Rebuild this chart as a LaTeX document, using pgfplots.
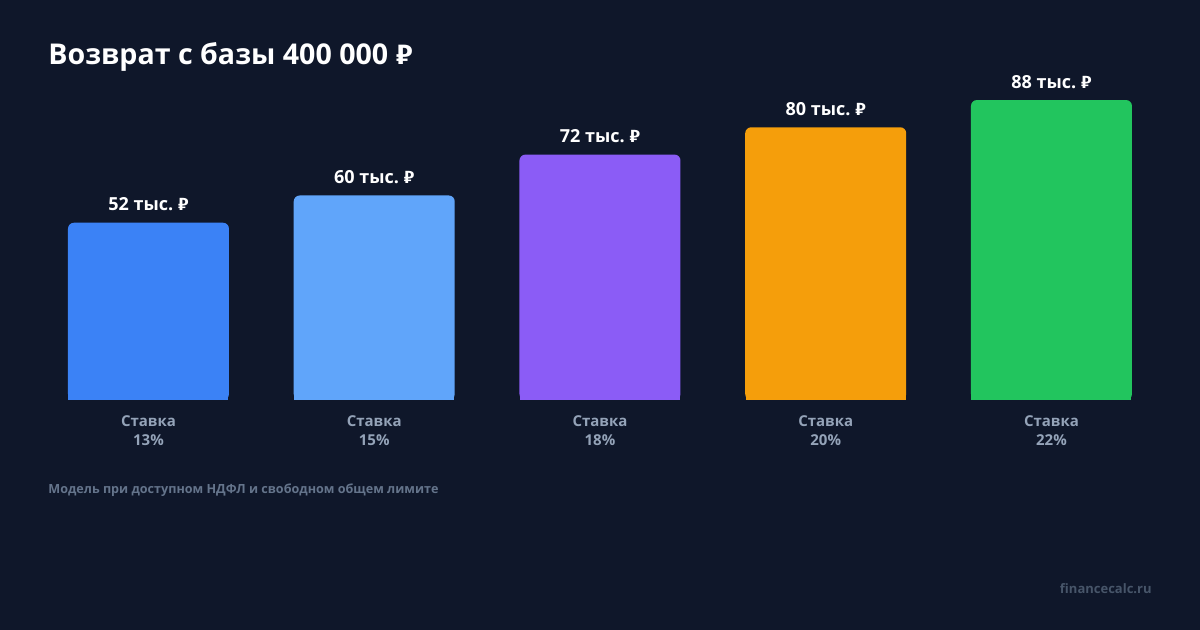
\documentclass[border=0pt]{standalone}
\usepackage{fontspec}
\setmainfont{Open Sans}
\newfontfamily\rubfont{Fira Sans}
\newcommand{\rub}{{\rubfont ₽}}
\usepackage{pgfplots}
\pgfplotsset{compat=1.18}
\definecolor{bg}{HTML}{0F172A}
\definecolor{tick}{HTML}{94A3B8}
\definecolor{note}{HTML}{64748B}
\definecolor{brand}{HTML}{475569}
\definecolor{c1}{HTML}{3B82F6}
\definecolor{c2}{HTML}{60A5FA}
\definecolor{c3}{HTML}{8B5CF6}
\definecolor{c4}{HTML}{F59E0B}
\definecolor{c5}{HTML}{22C55E}
\pgfplotsset{
    barlbl/.style={
        nodes near coords={\pgfmathprintnumber{\pgfplotspointmeta}~тыс.~\rub},
        every node near coord/.append style={
            anchor=base, yshift=6pt, text=white,
            font=\bfseries\fontsize{9}{11}\selectfont
        }
    }
}
\begin{document}
\begin{tikzpicture}
% 1px = 0.5pt, canvas 1200x630
\fill[bg] (0,0) rectangle (600pt,315pt);
\begin{axis}[
    at={(0pt,115pt)}, anchor=south west,
    width=600pt, height=150pt, scale only axis,
    xmin=-0.6578, xmax=4.658,
    ymin=0, ymax=88,
    clip=false,
    ybar, bar width=80.5pt,
    axis line style={draw=none},
    tick style={draw=none},
    ytick=\empty,
    xtick={0,1,2,3,4},
    xticklabels={{Ставка\\13\%},{Ставка\\15\%},{Ставка\\18\%},{Ставка\\20\%},{Ставка\\22\%}},
    xticklabel style={align=center, text=tick, font=\bfseries\fontsize{7.5}{9.5}\selectfont},
    point meta=y,
    /pgf/number format/assume math mode=true,
]
% square lower part so only the top corners are rounded
\addplot[fill=c1, draw=none, bar width=80pt, bar shift=0pt, y filter/.expression={min(y,10)}] coordinates {(0,52)};
\addplot[fill=c2, draw=none, bar width=80pt, bar shift=0pt, y filter/.expression={min(y,10)}] coordinates {(1,60)};
\addplot[fill=c3, draw=none, bar width=80pt, bar shift=0pt, y filter/.expression={min(y,10)}] coordinates {(2,72)};
\addplot[fill=c4, draw=none, bar width=80pt, bar shift=0pt, y filter/.expression={min(y,10)}] coordinates {(3,80)};
\addplot[fill=c5, draw=none, bar width=80pt, bar shift=0pt, y filter/.expression={min(y,10)}] coordinates {(4,88)};
% rounded bars
\addplot[fill=c1, draw=none, bar shift=0pt, rounded corners=3pt, barlbl] coordinates {(0,52)};
\addplot[fill=c2, draw=none, bar shift=0pt, rounded corners=3pt, barlbl] coordinates {(1,60)};
\addplot[fill=c3, draw=none, bar shift=0pt, rounded corners=3pt, barlbl] coordinates {(2,72)};
\addplot[fill=c4, draw=none, bar shift=0pt, rounded corners=3pt, barlbl] coordinates {(3,80)};
\addplot[fill=c5, draw=none, bar shift=0pt, rounded corners=3pt, barlbl] coordinates {(4,88)};
\end{axis}
\node[anchor=base west, inner sep=0, text=white, font=\bfseries\fontsize{14.3}{17}\selectfont]
    at (24pt,282.5pt) {Возврат с базы 400 000 \rub};
\node[anchor=base west, inner sep=0, text=note, font=\bfseries\fontsize{6.3}{8}\selectfont]
    at (24pt,68pt) {Модель при доступном НДФЛ и свободном общем лимите};
\node[anchor=base east, inner sep=0, text=brand, font=\bfseries\fontsize{6.5}{8}\selectfont]
    at (576pt,18pt) {financecalc.ru};
\end{tikzpicture}
\end{document}
